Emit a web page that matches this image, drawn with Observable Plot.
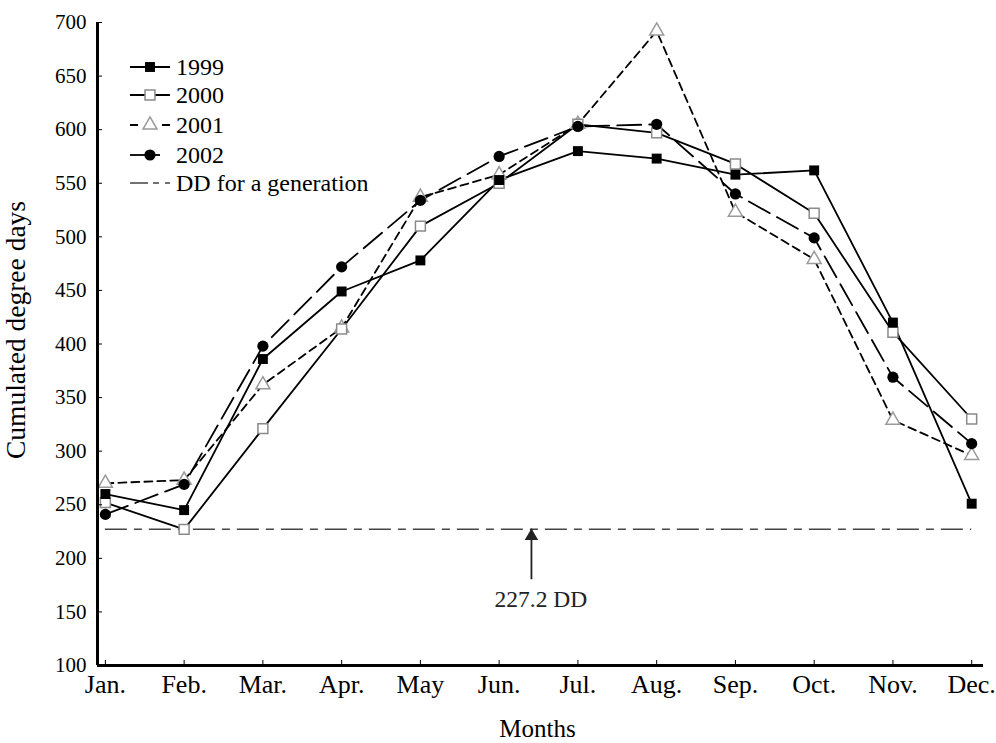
<!DOCTYPE html>
<html>
<head>
<meta charset="utf-8">
<script src="https://cdn.jsdelivr.net/npm/d3@7"></script>
<script src="https://cdn.jsdelivr.net/npm/@observablehq/plot@0.6"></script>
<style>
  html, body { margin: 0; padding: 0; background: #fff; }
  #chart { position: relative; width: 996px; height: 743px; }
  #chart svg text { font-family: "Liberation Serif", "Times New Roman", serif; }
</style>
</head>
<body>
<div id="chart"></div>
<script>
const monthLabels = ["Jan.","Feb.","Mar.","Apr.","May","Jun.","Jul.","Aug.","Sep.","Oct.","Nov.","Dec."];
const monthNums = [1,2,3,4,5,6,7,8,9,10,11,12];
const dd1999 = [260, 245, 386, 449, 478, 553, 580, 573, 558, 562, 420, 251];
const dd2000 = [252, 227, 321, 414, 510, 550, 605, 597, 568, 522, 411, 330];
const dd2001 = [270, 273, 362, 415, 537, 558, 605, 692, 523, 479, 329, 296];
const dd2002 = [241, 269, 398, 472, 534, 575, 603, 605, 540, 499, 369, 307];
const generationDD = 227.2;
const yTicks = [100,150,200,250,300,350,400,450,500,550,600,650,700];
const seriesNames = ["1999","2000","2001","2002"];
const legendLabels = ["1999","2000","2001","2002","DD for a generation"];
const yLabel = "Cumulated degree days";
const xLabel = "Months";
// annotation: arrow pointing at the generation line, and its label
const arrowPos = [{x: 6.41, y1: 180, y2: 227.2}];
const annotText = [{x: 6.53, y: 162, text: "227.2 DD"}];

const FONT = "Liberation Serif, Times New Roman, serif";

const mk = (vals) => vals.map((v, i) => ({month: monthNums[i], value: v}));
const s1999 = mk(dd1999), s2000 = mk(dd2000), s2001 = mk(dd2001), s2002 = mk(dd2002);

const styles = {
  "1999": {dash: null, symbol: "square", fill: "black", stroke: "black", r: 5.6},
  "2000": {dash: null, symbol: "square", fill: "white", stroke: "#8a8a8a", r: 5.6},
  "2001": {dash: "8,5", symbol: "triangle", fill: "white", stroke: "#9a9a9a", r: 5.2},
  "2002": {dash: "24,8", symbol: "circle", fill: "black", stroke: "black", r: 5.6}
};
const genDash = "22,7,8,7";

const chart = Plot.plot({
  width: 996,
  height: 743,
  marginLeft: 97,
  marginRight: 13,
  marginTop: 22,
  marginBottom: 78,
  style: {fontFamily: FONT, background: "white", color: "black"},
  x: {domain: [0.9, 12.15]},
  y: {domain: [100, 700]},
  marks: [
    Plot.ruleY([generationDD], {x1: 1, x2: 12, stroke: "#444", strokeWidth: 1.6, strokeDasharray: genDash}),
    Plot.ruleX(arrowPos, {x: "x", y1: "y1", y2: "y2", stroke: "#222", strokeWidth: 1.8}),
    Plot.dot(arrowPos, {x: "x", y: "y2", symbol: "triangle", r: 5, fill: "#222", dy: 7}),
    Plot.text(annotText, {x: "x", y: "y", text: "text", fontSize: 23.5, fill: "#222", fontFamily: FONT}),
    Plot.line(s1999, {x: "month", y: "value", stroke: "black", strokeWidth: 1.8}),
    Plot.line(s2000, {x: "month", y: "value", stroke: "black", strokeWidth: 1.8}),
    Plot.line(s2001, {x: "month", y: "value", stroke: "black", strokeWidth: 1.8, strokeDasharray: styles["2001"].dash}),
    Plot.line(s2002, {x: "month", y: "value", stroke: "black", strokeWidth: 1.8, strokeDasharray: styles["2002"].dash}),
    Plot.dot(s2001, {x: "month", y: "value", symbol: "triangle", r: styles["2001"].r, fill: "white", stroke: styles["2001"].stroke, strokeWidth: 1.5}),
    Plot.dot(s2000, {x: "month", y: "value", symbol: "square", r: styles["2000"].r, fill: "white", stroke: styles["2000"].stroke, strokeWidth: 1.5}),
    Plot.dot(s1999, {x: "month", y: "value", symbol: "square", r: styles["1999"].r, fill: "black"}),
    Plot.dot(s2002, {x: "month", y: "value", symbol: "circle", r: styles["2002"].r, fill: "black"}),
    Plot.axisY({ticks: yTicks, tickSize: 5, dx: 5, tickPadding: 11, fontSize: 21, fontFamily: FONT, label: null}),
    Plot.axisX({ticks: monthNums, tickFormat: (d) => monthLabels[d - 1], tickSize: 5, dy: -5, tickPadding: 9, fontSize: 26, fontFamily: FONT, label: null}),
    Plot.text([xLabel], {frameAnchor: "bottom", dy: 71, dx: -3, fontSize: 25, fill: "black", fontFamily: FONT}),
    Plot.ruleX([0.9], {y1: 100, y2: 700, stroke: "black", strokeWidth: 3}),
    Plot.ruleY([100], {x1: 0.9, x2: 12.15, stroke: "black", strokeWidth: 3})
  ]
});

const svg = d3.select(chart);

// y-axis title
svg.append("text")
  .attr("transform", "translate(19,330) rotate(-90)")
  .attr("text-anchor", "middle")
  .attr("dominant-baseline", "middle")
  .attr("font-size", 27.5)
  .attr("fill", "black")
  .text(yLabel);

// Legend inside the plot
const lg = svg.append("g").attr("font-size", 24).attr("text-anchor", "start").attr("fill", "black");
const rowY = [67, 95, 125, 155, 183];
const lx0 = 130, lx1 = 170, mx = 150, tx = 176;
legendLabels.forEach((lab, i) => {
  const y = rowY[i];
  const g = lg.append("g");
  if (i < 4) {
    const st = styles[seriesNames[i]];
    g.append("line").attr("x1", lx0).attr("x2", i === 3 ? 160 : lx1).attr("y1", y).attr("y2", y)
      .attr("stroke", "black").attr("stroke-width", 1.8)
      .attr("stroke-dasharray", i === 2 ? "8,24,8" : null);
    const sym = st.symbol === "square" ? d3.symbolSquare : st.symbol === "circle" ? d3.symbolCircle : d3.symbolTriangle;
    g.append("path").attr("d", d3.symbol(sym, Math.PI * st.r * st.r)())
      .attr("transform", `translate(${mx},${y})`)
      .attr("fill", st.fill).attr("stroke", st.fill === "white" ? st.stroke : "none").attr("stroke-width", 1.5);
  } else {
    g.append("line").attr("x1", lx0).attr("x2", lx1).attr("y1", y).attr("y2", y)
      .attr("stroke", "#444").attr("stroke-width", 1.6).attr("stroke-dasharray", "18,5,6,6");
  }
  g.append("text").attr("x", tx).attr("y", y).attr("dy", "0.35em").text(lab);
});

document.getElementById("chart").appendChild(chart);
</script>
</body>
</html>
